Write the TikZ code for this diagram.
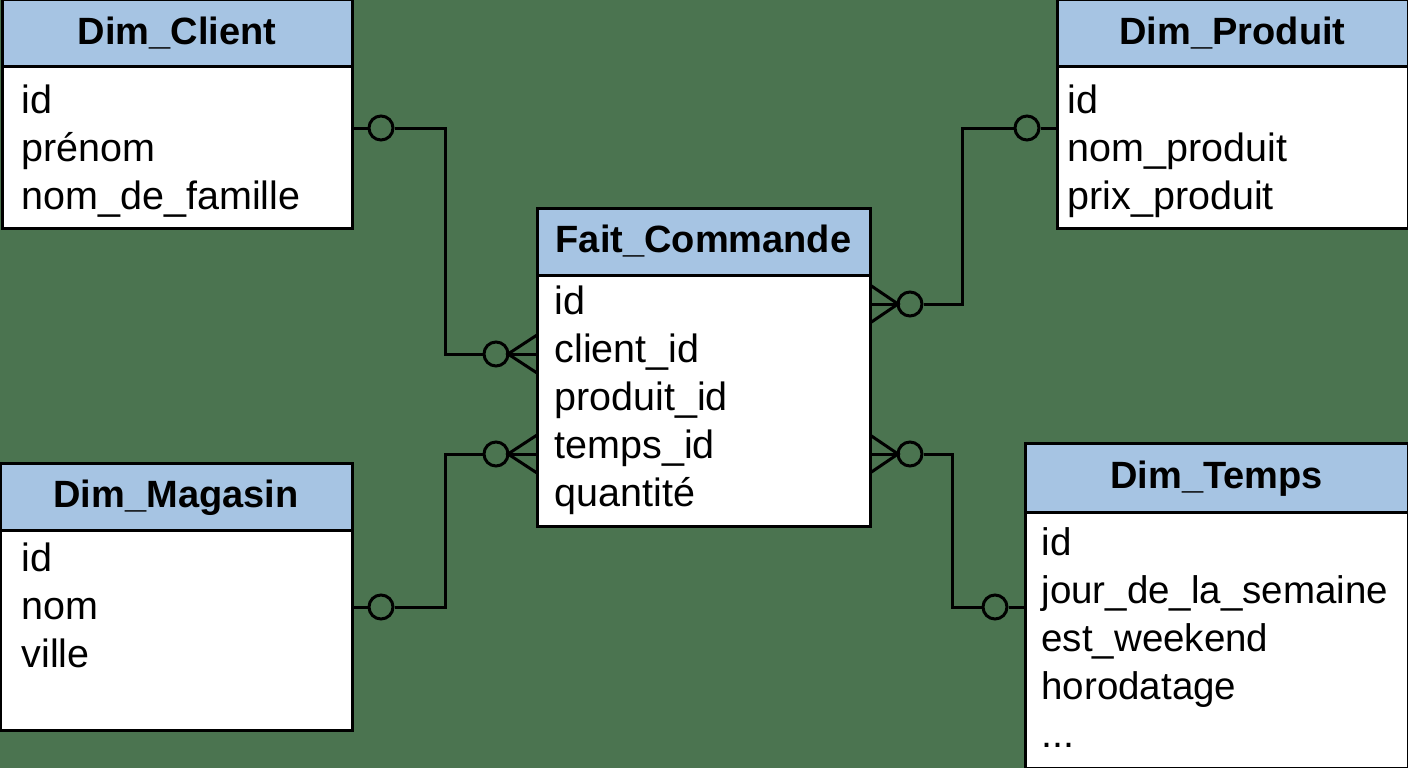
\documentclass[tikz,border=0pt]{standalone}
\usepackage{fontspec}
\setmainfont{Liberation Sans}
\definecolor{bg}{HTML}{4B7450}
\definecolor{hd}{HTML}{A6C4E3}
\newcommand\tbl[7]{%
  \draw[body] (#2,#3) rectangle (#4,#5);
  \draw[head] (#2,#3) rectangle (#4,#6);
  \node[ht] (#1) at ({(#2+#4)/2},{(#3+#6)/2+1}) {#7};}
\begin{document}
\begin{tikzpicture}[x=1pt,y=-1pt,line width=3pt,
  body/.style={fill=white,draw=black},
  head/.style={fill=hd,draw=black},
  ht/.style={font=\fontsize{38}{38}\selectfont\bfseries,text height=28pt,text depth=8pt,inner sep=0pt},
  rt/.style={font=\fontsize{39.5}{40}\selectfont,anchor=west,text height=29pt,text depth=9pt,inner sep=0pt},
  ring/.style={circle,draw=black,fill=none,minimum size=24pt,inner sep=0pt,line width=3pt}]
\fill[bg] (0,0) rectangle (1408,768);
\useasboundingbox (0,0) rectangle (1408,768);
\tbl{client}{2}{0}{352}{228}{67}{Dim\_Client}
\tbl{produit}{1057}{0}{1408}{228}{67}{Dim\_Produit}
\tbl{fait}{537}{208}{870}{526}{275}{Fait\_Commande}
\tbl{magasin}{0}{463}{352}{730}{530}{Dim\_Magasin}
\tbl{temps}{1025}{443}{1408}{768}{512}{Dim\_Temps}
% rows
\foreach \t [count=\i] in {id,prénom,nom\_de\_famille} \node[rt] (c\i) at (20,{103+48*(\i-1)}) {\t};
\foreach \t [count=\i] in {id,nom\_produit,prix\_produit} \node[rt] (p\i) at (1066,{103+48*(\i-1)}) {\t};
\foreach \t [count=\i] in {id,client\_id,produit\_id,temps\_id,quantité} \node[rt] (f\i) at (553,{304+48*(\i-1)}) {\t};
\foreach \t [count=\i] in {id,nom,ville} \node[rt] (m\i) at (20,{561+48*(\i-1)}) {\t};
\foreach \t [count=\i] in {id,jour\_de\_la\_semaine,est\_weekend,horodatage} \node[rt,font=\fontsize{38.5}{40}\selectfont] (t\i) at (1040,{545+48*(\i-1)}) {\t};
\node[rt] (t5) at (1040,737) {...};
% rings
\node[ring] (rc1) at (381,128) {};
\node[ring] (rc2) at (496,354) {};
\node[ring] (rm1) at (381,607) {};
\node[ring] (rm2) at (496,454) {};
\node[ring] (rp1) at (1027,128) {};
\node[ring] (rp2) at (910,304) {};
\node[ring] (rt1) at (995,607) {};
\node[ring] (rt2) at (910,454) {};
% connectors
\coordinate (a1) at (352,128); \coordinate (a2) at (445,128); \coordinate (a3) at (445,354);
\draw (a1) -- (rc1.west); \draw (rc1.east) -- (a2) -- (a3) -- (rc2.west);
\coordinate (b1) at (352,607); \coordinate (b2) at (445,607); \coordinate (b3) at (445,454);
\draw (b1) -- (rm1.west); \draw (rm1.east) -- (b2) -- (b3) -- (rm2.west);
\coordinate (d1) at (1057,128); \coordinate (d2) at (962,128); \coordinate (d3) at (962,304);
\draw (d1) -- (rp1.east); \draw (rp1.west) -- (d2) -- (d3) -- (rp2.east);
\coordinate (e1) at (1025,607); \coordinate (e2) at (952,607); \coordinate (e3) at (952,454);
\draw (e1) -- (rt1.east); \draw (rt1.west) -- (e2) -- (e3) -- (rt2.east);
% crow's feet
\foreach \y in {354,454} {
  \draw (537,{\y-19}) -- (508,\y) -- (537,{\y+19}); \draw (508,\y) -- (537,\y);}
\foreach \y in {304,454} {
  \draw (870,{\y-19}) -- (898,\y) -- (870,{\y+19}); \draw (898,\y) -- (870,\y);}
\end{tikzpicture}
\end{document}
